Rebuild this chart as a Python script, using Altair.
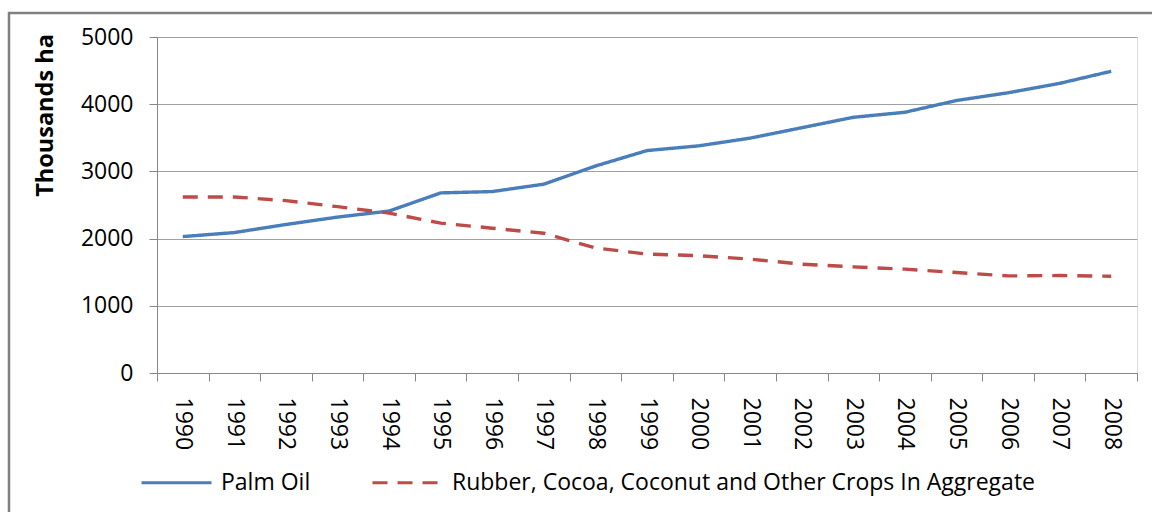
import altair as alt
import pandas as pd

years = [str(y) for y in range(1990, 2009)]
palm_oil = [2030, 2090, 2210, 2320, 2410, 2680, 2700, 2810, 3080, 3310, 3380, 3495, 3650,
            3805, 3880, 4055, 4170, 4310, 4490]
other_crops = [2620, 2620, 2565, 2475, 2380, 2230, 2155, 2080, 1860, 1770, 1745, 1695, 1620,
               1580, 1545, 1495, 1445, 1450, 1440]
series_names = ["Palm Oil", "Rubber, Cocoa, Coconut and Other Crops In Aggregate"]
y_ticks = [0, 1000, 2000, 3000, 4000, 5000]

rows = []
for i, yr in enumerate(years):
    rows.append({"year": yr, "value": palm_oil[i], "series": series_names[0]})
    rows.append({"year": yr, "value": other_crops[i], "series": series_names[1]})
df = pd.DataFrame(rows)

FONT = "Open Sans"

def make_legend():
    return alt.Legend(title=None, orient="none", direction="horizontal",
                      legendX=-17, legendY=409, symbolType="stroke",
                      symbolSize=4900, symbolStrokeWidth=3, labelOffset=8,
                      columnPadding=55, labelFontSize=23, labelFont=FONT,
                      labelColor="#000000", labelLimit=1000, padding=0)

lines = alt.Chart(df).mark_line(strokeWidth=3.4).encode(
    x=alt.X("year:N", sort=years, bandPosition=0.5,
            scale=alt.Scale(type="band", paddingInner=0, paddingOuter=0),
            axis=alt.Axis(title=None, labelAngle=90, tickBand="extent", tickSize=8,
                          labelPadding=16, labelFontSize=23, labelFont=FONT,
                          labelColor="#000000", domainColor="#868686", tickColor="#868686",
                          grid=False)),
    y=alt.Y("value:Q", scale=alt.Scale(domain=[0, 5000], nice=False),
            axis=alt.Axis(title="Thousands ha", values=y_ticks, format="d", tickSize=8,
                          labelPadding=16, labelFontSize=23, labelFont=FONT,
                          labelColor="#000000",
                          titleFont=FONT, titleFontSize=23.5, titleFontWeight="bold",
                          titleColor="#000000", titleAngle=-90, titleX=-112, titleY=78,
                          titleAlign="center", titleBaseline="middle",
                          domainColor="#868686", tickColor="#868686",
                          gridColor="#a0a0a0", gridWidth=1.2)),
    color=alt.Color("series:N", sort=series_names,
                    scale=alt.Scale(domain=series_names, range=["#4a7ebb", "#be4b48"]),
                    legend=make_legend()),
    strokeDash=alt.StrokeDash("series:N", sort=series_names,
                              scale=alt.Scale(domain=series_names, range=[[1, 0], [15, 10]]),
                              legend=make_legend()),
)

border = alt.Chart(pd.DataFrame({"k": [0]})).mark_rect(
    fill=None, stroke="#808080", strokeWidth=2.5
).encode(x=alt.value(-148), x2=alt.value(1010), y=alt.value(-24), y2=alt.value(490))

chart = alt.layer(border, lines).properties(
    width=980, height=336,
    autosize=alt.AutoSizeParams(type="none"),
    padding={"left": 157, "top": 37, "right": 15, "bottom": 139},
).configure_view(stroke=None).configure(background="white")

chart.save("out.html", embed_options={"renderer": "svg", "actions": False})
